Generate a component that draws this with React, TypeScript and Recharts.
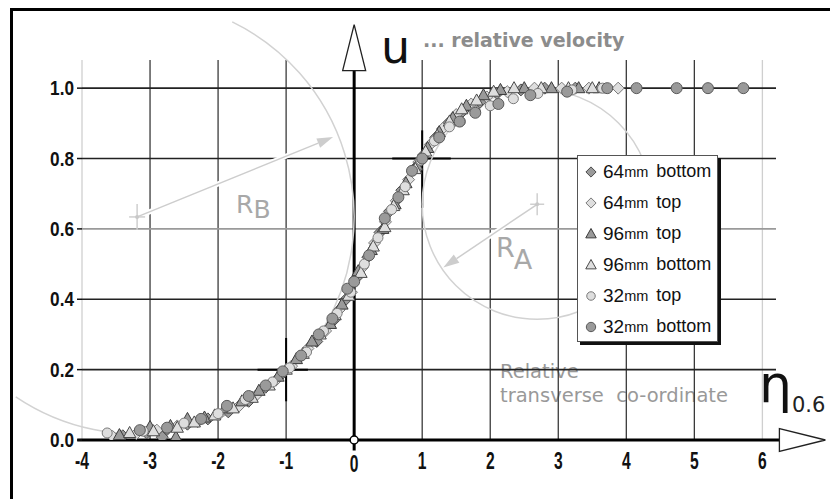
import React from "react";
import {
  ScatterChart,
  Scatter,
  XAxis,
  YAxis,
  ReferenceLine,
  ReferenceDot,
  Legend,
  Customized,
} from "recharts";

// eta_0.6 (relative transverse co-ordinate) vs u (relative velocity)
const xTicks = [-4, -3, -2, -1, 0, 1, 2, 3, 4, 5, 6];
const yTicks = [0, 0.2, 0.4, 0.6, 0.8, 1.0];

const gapSizes = ["64", "64", "96", "96", "32", "32"];
const positions = ["bottom", "top", "top", "bottom", "top", "bottom"];

const mm64Bottom = [
  [-3.4, 0.012], [-3.05, 0.02], [-2.82, 0.008], [-2.75, 0.03], [-2.45, 0.045], [-2.15, 0.06],
  [-1.85, 0.08], [-1.55, 0.11], [-1.3, 0.15], [-1.05, 0.19], [-0.8, 0.235],
  [-0.55, 0.28], [-0.3, 0.34], [-0.12, 0.4], [0.03, 0.46], [0.2, 0.52],
  [0.38, 0.59], [0.52, 0.65], [0.7, 0.71], [0.88, 0.77], [1.02, 0.81],
  [1.2, 0.86], [1.38, 0.9], [1.6, 0.935], [1.85, 0.96], [2.1, 0.985],
  [2.45, 0.995], [2.8, 1.0], [3.25, 1.0],
];
const mm64Top = [
  [-3.55, 0.01], [-3.2, 0.018], [-2.9, 0.028], [-2.6, 0.04], [-2.3, 0.052],
  [-2.0, 0.07], [-1.7, 0.095], [-1.45, 0.125], [-1.15, 0.17], [-0.92, 0.21],
  [-0.68, 0.26], [-0.42, 0.31], [-0.22, 0.37], [-0.04, 0.42], [0.12, 0.49],
  [0.3, 0.56], [0.46, 0.62], [0.62, 0.68], [0.8, 0.74], [0.95, 0.79],
  [1.12, 0.84], [1.3, 0.885], [1.5, 0.925], [1.72, 0.955], [1.95, 0.975],
  [2.25, 0.99], [2.65, 1.0], [3.05, 1.0], [3.45, 1.0], [3.88, 1.0],
];
const mm96Top = [
  [-3.45, 0.014], [-3.0, 0.037], [-2.7, 0.04], [-2.62, 0.008], [-2.45, 0.06], [-2.2, 0.064],
  [-1.9, 0.09], [-1.65, 0.11], [-1.4, 0.14], [-1.12, 0.18], [-0.85, 0.23],
  [-0.62, 0.28], [-0.35, 0.33], [-0.18, 0.385], [0.06, 0.48], [0.25, 0.54],
  [0.42, 0.6], [0.6, 0.67], [0.76, 0.73], [0.92, 0.78], [1.08, 0.83],
  [1.25, 0.875], [1.45, 0.915], [1.65, 0.95], [1.9, 0.98], [2.15, 0.995],
  [2.5, 1.0], [2.9, 1.0], [3.3, 1.0], [3.6, 1.0],
];
const mm96Bottom = [
  [-3.3, 0.02], [-2.95, 0.025], [-2.6, 0.035], [-2.35, 0.05], [-2.05, 0.07],
  [-1.78, 0.09], [-1.5, 0.12], [-1.25, 0.155], [-1.0, 0.2], [-0.75, 0.245],
  [-0.5, 0.3], [-0.28, 0.355], [-0.08, 0.41], [0.1, 0.475], [0.28, 0.55],
  [0.45, 0.605], [0.58, 0.665], [0.72, 0.71], [0.9, 0.77], [1.05, 0.82],
  [1.22, 0.865], [1.4, 0.905], [1.58, 0.94], [1.8, 0.965], [2.05, 0.99],
  [2.35, 1.0], [2.75, 1.0], [3.15, 1.0], [3.5, 1.0],
];
const mm32Top = [
  [-3.63, 0.02], [-3.1, 0.025], [-2.5, 0.048], [-2.0, 0.075], [-1.6, 0.115],
  [-1.2, 0.165], [-0.95, 0.205], [-0.7, 0.25], [-0.45, 0.31], [-0.25, 0.36],
  [-0.05, 0.42], [0.15, 0.5], [0.35, 0.575], [0.55, 0.655], [0.75, 0.72],
  [0.98, 0.795], [1.18, 0.85], [1.4, 0.89], [1.56, 0.905], [1.78, 0.935],
  [2.0, 0.95], [2.34, 0.97], [2.7, 0.985], [3.2, 0.995], [3.65, 1.0],
];
const mm32Bottom = [
  [-3.15, 0.028], [-2.75, 0.035], [-2.25, 0.06], [-1.87, 0.097], [-1.55, 0.125],
  [-1.3, 0.155], [-1.05, 0.195], [-0.78, 0.24], [-0.52, 0.3], [-0.32, 0.345],
  [-0.1, 0.43], [0.0, 0.45], [0.22, 0.525], [0.45, 0.63], [0.65, 0.69],
  [0.85, 0.765], [1.0, 0.8], [1.25, 0.86], [1.55, 0.905], [1.78, 0.93],
  [2.12, 0.955], [2.59, 0.98], [3.13, 0.99], [3.72, 1.0], [4.15, 1.0],
  [4.74, 1.0], [5.2, 1.0], [5.72, 1.0],
];

const ARIAL = "'Liberation Sans', Arial, sans-serif";
const SANS = "'DejaVu Sans', Verdana, sans-serif";

const toPts = (a: number[][]) => a.map(([x, y]) => ({ x, y }));

type MarkStyle = { kind: "diamond" | "triangle" | "circle"; fill: string; stroke: string; r: number };

const GRAY = "#9a9a9a";
const LIGHT = "#dedede";

const marks: MarkStyle[] = [
  { kind: "diamond", fill: GRAY, stroke: "#4a4a4a", r: 6 },
  { kind: "diamond", fill: LIGHT, stroke: "#7a7a7a", r: 6 },
  { kind: "triangle", fill: GRAY, stroke: "#3a3a3a", r: 6.5 },
  { kind: "triangle", fill: LIGHT, stroke: "#4a4a4a", r: 6.5 },
  { kind: "circle", fill: LIGHT, stroke: "#7a7a7a", r: 5 },
  { kind: "circle", fill: GRAY, stroke: "#5a5a5a", r: 5.5 },
];

const seriesData = [mm64Bottom, mm64Top, mm96Top, mm96Bottom, mm32Top, mm32Bottom];

const series = seriesData.map((d, i) => ({
  size: gapSizes[i],
  pos: positions[i],
  name: `${gapSizes[i]}mm ${positions[i]}`,
  data: toPts(d),
  mark: marks[i],
}));

function Mark({ cx, cy, s, scale = 1 }: { cx: number; cy: number; s: MarkStyle; scale?: number }) {
  const r = s.r * scale;
  if (s.kind === "diamond") {
    return (
      <polygon
        points={`${cx},${cy - r} ${cx + r},${cy} ${cx},${cy + r} ${cx - r},${cy}`}
        fill={s.fill}
        stroke={s.stroke}
        strokeWidth={1}
      />
    );
  }
  if (s.kind === "triangle") {
    return (
      <polygon
        points={`${cx},${cy - r} ${cx + r * 0.95},${cy + r * 0.7} ${cx - r * 0.95},${cy + r * 0.7}`}
        fill={s.fill}
        stroke={s.stroke}
        strokeWidth={1}
      />
    );
  }
  return <circle cx={cx} cy={cy} r={r} fill={s.fill} stroke={s.stroke} strokeWidth={1} />;
}

// condensed bold tick labels
function XTick(p: any) {
  const { x, y, payload } = p;
  const base = y + 17 + (payload.value === 0 ? 3 : 0);
  return (
    <text
      transform={`translate(${x},${base}) scale(0.68,1)`}
      textAnchor="middle"
      fontFamily={ARIAL}
      fontSize={23}
      fontWeight="bold"
      fill="#111"
    >
      {payload.value}
    </text>
  );
}

function YTick(p: any) {
  const { x, y, payload } = p;
  return (
    <text
      transform={`translate(${x},${y + 7}) scale(0.86,1)`}
      textAnchor="end"
      fontFamily={ARIAL}
      fontSize={20}
      fontWeight="bold"
      fill="#111"
    >
      {payload.value.toFixed(1)}
    </text>
  );
}

function arcPath(cx: number, cy: number, r: number, a0: number, a1: number) {
  const rad = Math.PI / 180;
  const x0 = cx + r * Math.cos(a0 * rad);
  const y0 = cy + r * Math.sin(a0 * rad);
  const x1 = cx + r * Math.cos(a1 * rad);
  const y1 = cy + r * Math.sin(a1 * rad);
  const large = a1 - a0 > 180 ? 1 : 0;
  return `M${x0},${y0} A${r},${r} 0 ${large} 1 ${x1},${y1}`;
}

// radius circle, drawn around the reference dot's centre
function RadiusArc(r: number, a0: number, a1: number, armX: number, armY: number) {
  return (p: any) => {
    const { cx, cy } = p;
    return (
      <g>
        {a1 - a0 >= 360 ? (
          <circle cx={cx} cy={cy} r={r} fill="none" stroke="#d2d2d2" strokeWidth={1.5} />
        ) : (
          <path d={arcPath(cx, cy, r, a0, a1)} fill="none" stroke="#d2d2d2" strokeWidth={1.5} />
        )}
        <line x1={cx - armX} y1={cy} x2={cx + armX} y2={cy} stroke="#cfcfcf" strokeWidth={1.5} />
        <line x1={cx} y1={cy - armY} x2={cx} y2={cy + armY} stroke="#cfcfcf" strokeWidth={1.5} />
        <circle cx={cx} cy={cy} r={2} fill="#c8c8c8" />
      </g>
    );
  };
}

function GrayArrow(p: any) {
  const { x1, y1, x2, y2 } = p;
  const a = Math.atan2(y2 - y1, x2 - x1);
  const len = 16;
  const w = 5;
  const bx = x2 - len * Math.cos(a);
  const by = y2 - len * Math.sin(a);
  const nx = -Math.sin(a) * w;
  const ny = Math.cos(a) * w;
  return (
    <g>
      <line x1={x1} y1={y1} x2={x2} y2={y2} stroke="#fff" strokeWidth={5} />
      <line x1={x1} y1={y1} x2={bx} y2={by} stroke="#cdcdcd" strokeWidth={1.5} />
      <polygon points={`${x2},${y2} ${bx + nx},${by + ny} ${bx - nx},${by - ny}`} fill="#cdcdcd" />
    </g>
  );
}

// axis line ending in an open arrow head
function AxisArrow(p: any) {
  const { x1, y1, x2, y2 } = p;
  const a = Math.atan2(y2 - y1, x2 - x1);
  const len = 46;
  const w = 11.5;
  const tx = x2 + len * Math.cos(a);
  const ty = y2 + len * Math.sin(a);
  const nx = -Math.sin(a) * w;
  const ny = Math.cos(a) * w;
  return (
    <g>
      <line x1={x1} y1={y1} x2={x2} y2={y2} stroke="#000" strokeWidth={3} />
      <polygon
        points={`${tx},${ty} ${x2 + nx},${y2 + ny} ${x2 - nx},${y2 - ny}`}
        fill="#fff"
        stroke="#222"
        strokeWidth={1.3}
      />
    </g>
  );
}

function Annotations() {
  const halo = { paintOrder: "stroke" as const, stroke: "#fff", strokeWidth: 5 };
  return (
    <g>
      <line x1={10} y1={9.5} x2={830} y2={9.5} stroke="#000" strokeWidth={3} />
      <line x1={11.5} y1={8} x2={11.5} y2={499} stroke="#000" strokeWidth={3} />
      <rect x={476} y={358} width={131} height={24} fill="#fff" />
      <rect x={494} y={382} width={242} height={26} fill="#fff" />
      <text x={500} y={378} fontFamily={SANS} fontSize={19.5} fill="#999">Relative</text>
      <text x={500} y={402} fontFamily={SANS} fontSize={19.5} fill="#999" style={{ whiteSpace: "pre" }}>
        {"transverse  co-ordinate"}
      </text>
      <text x={381} y={63} fontFamily={SANS} fontSize={46} fill="#111">u</text>
      <text x={423} y={47} fontFamily={SANS} fontSize={19} fontWeight="bold" fill="#8c8c8c">
        ... relative velocity
      </text>
      <text x={759} y={402} fontFamily={SANS} fontSize={52} fill="#111">η</text>
      <text x={792} y={412} fontFamily={SANS} fontSize={21} fill="#222">0.6</text>
      <text x={236} y={213} fontFamily={SANS} fontSize={25} fill="#a8a8a8" style={halo}>
        R<tspan dy={5}>B</tspan>
      </text>
      <text x={496} y={257} fontFamily={SANS} fontSize={27} fill="#a8a8a8" style={halo}>
        R<tspan dy={12}>A</tspan>
      </text>
    </g>
  );
}

function LegendBox() {
  return (
    <div
      style={{
        width: 141,
        height: 187,
        boxSizing: "border-box",
        border: "1px solid #555",
        boxShadow: "3px 3px 0 #111",
        background: "#fff",
        fontFamily: ARIAL,
        color: "#111",
      }}
    >
      {series.map((s) => (
        <div key={s.name} style={{ height: 31, display: "flex", alignItems: "center", whiteSpace: "nowrap" }}>
          <svg width={22} height={20} style={{ marginLeft: 2, flexShrink: 0 }}>
            <Mark cx={11} cy={10} s={s.mark} scale={0.85} />
          </svg>
          <span style={{ fontSize: 19, marginLeft: 1 }}>{s.size}</span>
          <span style={{ fontSize: 14.5 }}>mm</span>
          <span style={{ fontSize: 18, marginLeft: 8 }}>{s.pos}</span>
        </div>
      ))}
    </div>
  );
}

export default function App() {
  return (
    <div style={{ width: 830, height: 499, background: "#fff" }}>
      <style>{"body{margin:0}"}</style>
      <ScatterChart width={830} height={499} margin={{ top: 60, right: 54, bottom: 29, left: 32 }}>
        <XAxis
          type="number"
          dataKey="x"
          domain={[-4, 6.2]}
          ticks={xTicks}
          allowDataOverflow
          axisLine={false}
          tickLine={false}
          tickSize={0}
          tickMargin={12}
          height={30}
          tick={XTick}
        />
        <YAxis
          type="number"
          dataKey="y"
          domain={[0, 1.08]}
          ticks={yTicks}
          allowDataOverflow
          axisLine={false}
          tickLine={{ stroke: "#111", strokeWidth: 1.5 }}
          tickSize={5}
          tickMargin={3}
          width={50}
          tick={YTick}
        />
        {xTicks
          .filter((t) => t !== 0)
          .map((t) => (
            <ReferenceLine
              key={`vx${t}`}
              x={t}
              stroke={t === -4 || t === 6 ? "#cfcfcf" : "#3a3a3a"}
              strokeWidth={1.3}
            />
          ))}
        {yTicks
          .filter((t) => t !== 0)
          .map((t) => (
            <ReferenceLine
              key={`hy${t}`}
              y={t}
              stroke={t === 0.6 ? "#9a9a9a" : "#222"}
              strokeWidth={1.6}
            />
          ))}
        <ReferenceDot x={-3.19} y={0.634} r={2} ifOverflow="visible" shape={RadiusArc(217, -64, 124, 8, 13)} />
        <ReferenceDot x={2.69} y={0.67} r={2} ifOverflow="visible" shape={RadiusArc(115, 0, 360, 7, 11)} />
        <ReferenceLine
          segment={[{ x: -3.19, y: 0.634 }, { x: -0.31, y: 0.861 }]}
          ifOverflow="visible"
          shape={GrayArrow}
        />
        <ReferenceLine
          segment={[{ x: 2.69, y: 0.67 }, { x: 1.31, y: 0.49 }]}
          ifOverflow="visible"
          shape={GrayArrow}
        />
        <ReferenceLine segment={[{ x: -1.42, y: 0.2 }, { x: -0.68, y: 0.2 }]} stroke="#000" strokeWidth={2} />
        <ReferenceLine segment={[{ x: -1, y: 0.11 }, { x: -1, y: 0.29 }]} stroke="#000" strokeWidth={2} />
        <ReferenceLine segment={[{ x: 0.56, y: 0.8 }, { x: 1.42, y: 0.8 }]} stroke="#000" strokeWidth={2} />
        <ReferenceLine segment={[{ x: 1, y: 0.66 }, { x: 1, y: 0.88 }]} stroke="#000" strokeWidth={2} />
        <ReferenceLine segment={[{ x: 0, y: -0.03 }, { x: 0, y: 1.05 }]} ifOverflow="visible" shape={AxisArrow} />
        <ReferenceLine segment={[{ x: -4.07, y: 0 }, { x: 6.25, y: 0 }]} ifOverflow="visible" shape={AxisArrow} />
        <Customized component={Annotations} />
        {series.map((s) => (
          <Scatter
            key={s.name}
            name={s.name}
            data={s.data}
            isAnimationActive={false}
            shape={(p: any) => <Mark cx={p.cx} cy={p.cy} s={s.mark} />}
          />
        ))}
        <ReferenceDot x={0} y={0} r={4} fill="#fff" stroke="#000" strokeWidth={1.5} ifOverflow="visible" />
        <Legend
          layout="horizontal"
          verticalAlign="middle"
          align="center"
          wrapperStyle={{ left: 577, top: 155, width: 141, height: 187 }}
          content={() => <LegendBox />}
        />
      </ScatterChart>
    </div>
  );
}
